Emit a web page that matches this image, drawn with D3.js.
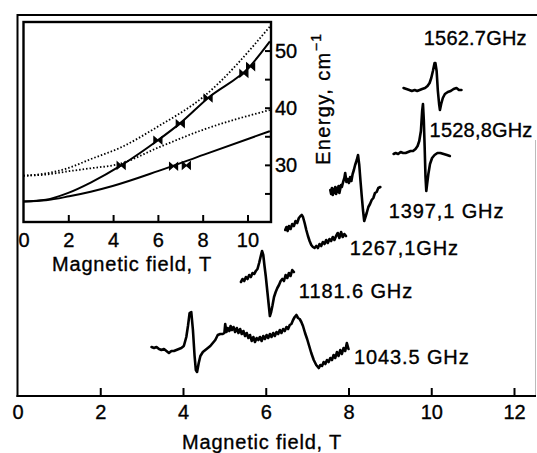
<!DOCTYPE html>
<html>
<head>
<meta charset="utf-8">
<script src="https://cdn.jsdelivr.net/npm/d3@7"></script>
<style>
  html, body { margin: 0; padding: 0; background: #fff; }
  svg { display: block; }
  text { font-family: "Liberation Sans", Arial, sans-serif; fill: #000; stroke: #000; stroke-width: 0.35px; }
</style>
</head>
<body>
<svg id="chart" width="537" height="453"></svg>
<script>
// ---- Main panel: EPR spectra at several frequencies (signal in arb. units) ----
const mainTicks = [0, 2, 4, 6, 8, 10, 12];

const field1043 = [3.24,3.30,3.36,3.42,3.48,3.54,3.60,3.66,3.72,3.78,3.84,3.90,3.96,4.02,4.08,4.12,4.16,4.20,4.24,4.28,4.31,4.34,4.38,4.42,4.48,4.54,4.60,4.66,4.72,4.78,4.84,4.90,4.96,5.00,5.02,5.05,5.08,5.12,5.15,5.18,5.22,5.26,5.30,5.34,5.38,5.42,5.46,5.50,5.54,5.58,5.62,5.66,5.70,5.74,5.78,5.82,5.86,5.90,5.94,5.98,6.02,6.06,6.10,6.14,6.18,6.22,6.26,6.30,6.34,6.38,6.42,6.46,6.50,6.54,6.58,6.62,6.66,6.70,6.74,6.78,6.82,6.86,6.90,6.95,7.00,7.05,7.10,7.16,7.22,7.28,7.32,7.36,7.40,7.44,7.48,7.52,7.56,7.60,7.64,7.68,7.72,7.76,7.80,7.84,7.88,7.92,7.96,8.00];
const signal1043 = [49,48,49,47,46,47,45,43,45,45,46,47,48,50,59,70,83,84,66,40,26,24,33,40,44,46,48,50,53,56,61,62,62,63,72,64,68,65,70,66,69,64,68,63,67,62,65,60,63,58,61,55,59,54,58,56,59,55,60,57,61,58,62,59,63,60,64,62,66,63,67,65,69,67,71,72,76,79,81,78,77,74,70,63,57,50,43,36,31,28,31,30,34,32,36,34,38,36,41,38,44,40,46,42,48,45,53,47];

const field1181 = [5.40,5.44,5.48,5.52,5.56,5.60,5.64,5.68,5.72,5.76,5.80,5.84,5.88,5.91,5.94,5.97,6.00,6.04,6.07,6.10,6.13,6.16,6.20,6.24,6.28,6.32,6.36,6.40,6.44,6.48,6.52,6.56,6.60,6.64,6.68];
const signal1181 = [114,117,115,119,117,121,119,123,122,125,127,133,140,145,141,130,120,104,92,80,84,90,99,104,108,111,115,117,115,121,118,123,120,126,124];

const field1267 = [6.47,6.50,6.53,6.56,6.60,6.64,6.68,6.72,6.76,6.80,6.84,6.87,6.90,6.94,6.98,7.02,7.06,7.10,7.14,7.18,7.22,7.26,7.30,7.34,7.38,7.42,7.46,7.50,7.54,7.58,7.62,7.66,7.70,7.74,7.78,7.82,7.86,7.90,7.94];
const signal1267 = [166,169,165,170,167,172,170,175,173,178,180,181,179,173,166,160,155,151,149,148,150,148,152,150,154,152,156,153,157,155,159,156,160,163,158,164,159,162,160];

const field1397 = [7.56,7.58,7.60,7.62,7.64,7.66,7.68,7.70,7.72,7.74,7.76,7.78,7.80,7.82,7.84,7.87,7.90,7.92,7.95,7.98,8.01,8.04,8.07,8.10,8.13,8.16,8.20,8.23,8.26,8.29,8.32,8.35,8.38,8.41,8.44,8.48,8.52,8.56,8.60,8.64,8.68,8.72,8.77];
const signal1397 = [206,202,208,201,207,203,209,202,208,204,210,203,207,211,209,214,218,223,214,217,213,219,215,222,226,231,236,241,231,215,200,186,175,179,183,189,192,196,198,203,204,208,209];

const field1528 = [9.09,9.14,9.20,9.26,9.32,9.38,9.44,9.50,9.56,9.62,9.67,9.71,9.75,9.78,9.80,9.82,9.84,9.86,9.88,9.90,9.93,9.97,10.02,10.08,10.15,10.22,10.30,10.38,10.45];
const signal1528 = [242,243,242,244,243,243,244,245,245,247,250,255,265,285,292,276,250,220,205,212,222,232,238,241,243,243,242,241,240];

const field1562 = [9.33,9.40,9.47,9.53,9.60,9.66,9.72,9.78,9.85,9.91,9.96,10.00,10.04,10.08,10.10,10.13,10.16,10.19,10.21,10.24,10.28,10.33,10.40,10.47,10.54,10.61,10.67,10.73];
const signal1562 = [308,307,306,305,306,305,306,307,308,310,313,318,325,333,333,325,305,292,286,292,298,302,304,305,307,308,306,306];

const freqLabels = ["1043.5 GHz", "1181.6 GHz", "1267,1GHz", "1397,1 GHz", "1528,8GHz", "1562.7GHz"];
// label anchor (field, signal) for each spectrum label
const labelField  = [8.13, 6.80, 8.03, 8.97, 9.96, 9.82];
const labelSignal = [32, 98, 141, 178, 259, 351];

// ---- Inset: energy levels vs field (cm^-1) ----
const insetTicksX = [0, 2, 4, 6, 8, 10];
const insetTicksY = [25, 30, 35, 40, 45, 50];
const insetLabelsY = [30, 40, 50];

const solidUpperB = [0, 1, 2, 3, 4.36, 6.0, 7.0, 8.24, 10.1, 11.0];
const solidUpperE = [23.6, 23.9, 25.1, 26.9, 29.9, 34.3, 37.3, 41.7, 47.2, 51.6];
const solidLowerB = [0, 1, 2.04, 3, 3.98, 6.0, 8.06, 11.0];
const solidLowerE = [23.6, 23.8, 24.5, 25.3, 26.3, 28.9, 31.8, 35.9];
const dotUpperB = [0, 1, 2.04, 3, 4.32, 6.0, 8.06, 11.0];
const dotUpperE = [28.1, 28.5, 29.5, 31.0, 33.0, 36.7, 42.0, 54.2];
const dotLowerB = [0, 1, 2.04, 3, 4.32, 6.0, 8.06, 11.0];
const dotLowerE = [28.1, 28.3, 28.9, 29.4, 30.2, 33.0, 36.2, 39.6];

const pointB = [4.36, 6.0, 7.0, 8.24, 9.84, 10.14, 6.7, 7.27];
const pointE = [29.9, 34.3, 37.2, 41.7, 46.0, 47.2, 29.75, 29.9];

// ---------------------------------------------------------------
const svg = d3.select("#chart");

const x = d3.scaleLinear().domain([0, 12]).range([17.5, 514]);
const y = d3.scaleLinear().domain([0, 381]).range([396, 15]);

// main frame
svg.append("line").attr("x1", 17.5).attr("x2", 537).attr("y1", 15).attr("y2", 15)
  .attr("stroke", "#000").attr("stroke-width", 2);
svg.append("line").attr("x1", 17.5).attr("x2", 17.5).attr("y1", 14).attr("y2", 397)
  .attr("stroke", "#000").attr("stroke-width", 2);
svg.append("line").attr("x1", 535.5).attr("x2", 535.5).attr("y1", 140).attr("y2", 396)
  .attr("stroke", "#bbb").attr("stroke-width", 1);

const xAxis = d3.axisBottom(x).tickValues(mainTicks).tickSize(0).tickPadding(0).tickFormat(d3.format("d"));
const gx = svg.append("g").attr("transform", `translate(0,${y(0)})`).call(xAxis);
gx.select(".domain").attr("stroke", "#000").attr("stroke-width", 2)
  .attr("d", `M${x(0) - 1},0H536`);
gx.selectAll(".tick line").remove();
gx.selectAll(".tick").filter(d => d > 0).append("line")
  .attr("y1", 0).attr("y2", -8).attr("stroke", "#000").attr("stroke-width", 2);
gx.selectAll(".tick text").attr("y", 23).attr("dy", 0)
  .style("font-size", "20px").style("font-family", "Liberation Sans, Arial, sans-serif").attr("fill", "#000");

svg.append("text").attr("x", 262).attr("y", 449).attr("text-anchor", "middle")
  .style("font-size", "20px").style("letter-spacing", "0.8px").text("Magnetic field, T");

// spectra
const spectra = [
  [field1043, signal1043], [field1181, signal1181], [field1267, signal1267],
  [field1397, signal1397], [field1528, signal1528], [field1562, signal1562]
];
const traceLine = d3.line().x(d => x(d[0])).y(d => y(d[1])).curve(d3.curveLinear);
spectra.forEach(([f, s]) => {
  svg.append("path").datum(f.map((v, i) => [v, s[i]]))
    .attr("d", traceLine).attr("fill", "none").attr("stroke", "#000")
    .attr("stroke-width", 2.6).attr("stroke-linejoin", "round").attr("stroke-linecap", "round");
});
freqLabels.forEach((t, i) => {
  svg.append("text").attr("x", x(labelField[i])).attr("y", y(labelSignal[i]))
    .style("font-size", "20px").style("letter-spacing", i >= 4 ? "0.2px" : "0.9px").text(t);
});

// ---- inset ----
const ix = d3.scaleLinear().domain([0, 11.05]).range([23.5, 271]);
const iy = d3.scaleLinear().domain([20, 55]).range([222, 22]);

svg.append("rect").attr("x", ix(0)).attr("y", iy(55)).attr("width", ix(11.05) - ix(0))
  .attr("height", iy(20) - iy(55)).attr("fill", "none").attr("stroke", "#000").attr("stroke-width", 2.4);

const ixAxis = d3.axisBottom(ix).tickValues(insetTicksX).tickSize(0).tickPadding(0).tickFormat(d3.format("d"));
const gix = svg.append("g").attr("transform", `translate(0,${iy(20)})`).call(ixAxis);
gix.select(".domain").remove();
gix.selectAll(".tick line").remove();
gix.selectAll(".tick").filter(d => d > 0).append("line")
  .attr("y1", 0).attr("y2", -7).attr("stroke", "#000").attr("stroke-width", 2);
gix.selectAll(".tick text").attr("y", 25).attr("dy", 0)
  .style("font-size", "20px").style("font-family", "Liberation Sans, Arial, sans-serif").attr("fill", "#000");

const iyAxis = d3.axisRight(iy).tickValues(insetTicksY).tickSize(0).tickPadding(0)
  .tickFormat(d => insetLabelsY.includes(d) ? d : "");
const giy = svg.append("g").attr("transform", `translate(${ix(11.05)},0)`).call(iyAxis);
giy.select(".domain").remove();
giy.selectAll(".tick line").remove();
giy.selectAll(".tick").append("line")
  .attr("x1", 0).attr("x2", -6).attr("stroke", "#000").attr("stroke-width", 2);
giy.selectAll(".tick text").attr("x", 4).attr("dy", "0.35em")
  .style("font-size", "20px").style("font-family", "Liberation Sans, Arial, sans-serif").attr("fill", "#000");

svg.append("text").attr("x", 132).attr("y", 271).attr("text-anchor", "middle")
  .style("font-size", "20px").style("letter-spacing", "0.8px").text("Magnetic field, T");

const yTitle = svg.append("text").attr("transform", "translate(330,165) rotate(-90)")
  .style("font-size", "20px").style("letter-spacing", "1.4px");
yTitle.append("tspan").text("Energy, cm");
yTitle.append("tspan").attr("dy", -9).style("font-size", "14px").text("\u22121");

const curve = d3.line().x(d => ix(d[0])).y(d => iy(d[1])).curve(d3.curveMonotoneX);
const insetCurves = [
  [solidUpperB, solidUpperE, null],
  [solidLowerB, solidLowerE, null],
  [dotUpperB, dotUpperE, "1.5,2"],
  [dotLowerB, dotLowerE, "1.5,2"]
];
insetCurves.forEach(([b, e, dash]) => {
  const p = svg.append("path").datum(b.map((v, i) => [v, e[i]]))
    .attr("d", curve).attr("fill", "none").attr("stroke", "#000")
    .attr("stroke-width", dash ? 1.8 : 2);
  if (dash) p.attr("stroke-dasharray", dash);
});

svg.append("g").selectAll("path").data(pointB.map((v, i) => [v, pointE[i]])).join("path")
  .attr("transform", d => `translate(${ix(d[0])},${iy(d[1])})`)
  .attr("d", "M-4,-3.5L4,3.5L4,-3.5L-4,3.5Z")
  .attr("fill", "#000").attr("stroke", "#000").attr("stroke-width", 1.2);
</script>
</body>
</html>
